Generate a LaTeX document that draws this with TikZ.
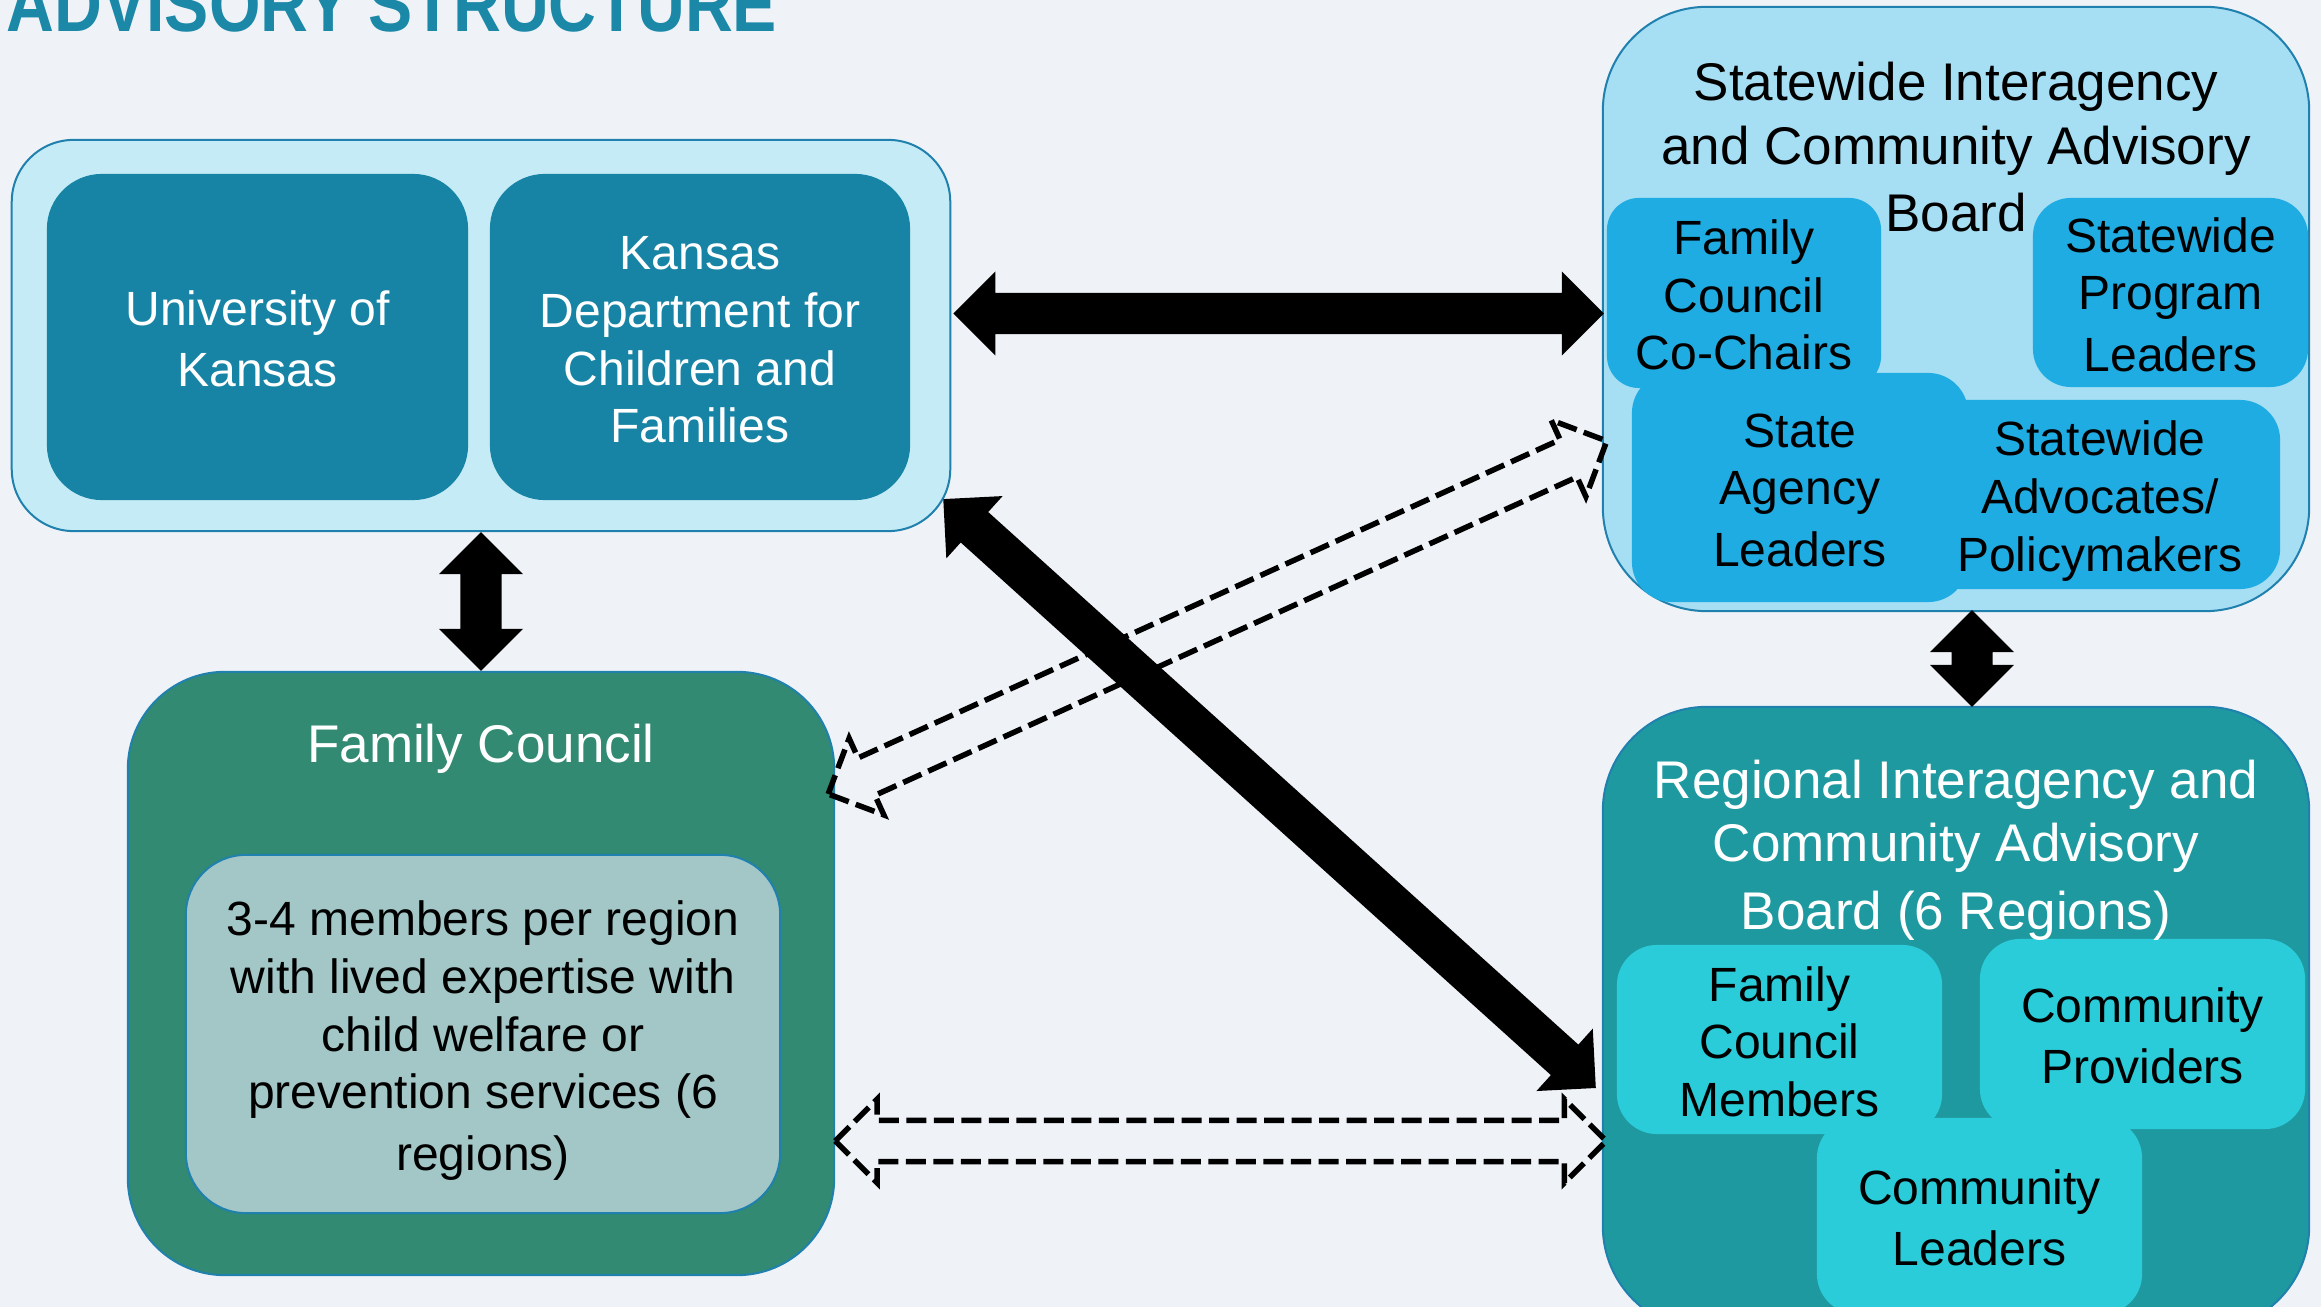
\documentclass[tikz,border=0pt]{standalone}
\usepackage{fontspec}
\setmainfont{Liberation Sans}
\usepackage{graphicx}
\usetikzlibrary{calc}
\definecolor{bgc}{HTML}{EFF3F7}
\definecolor{titlec}{HTML}{1B88A8}
\definecolor{bordc}{HTML}{2080AE}
\definecolor{tlfill}{HTML}{C5ECF6}
\definecolor{tlin}{HTML}{1784A5}
\definecolor{fcfill}{HTML}{318A71}
\definecolor{fcin}{HTML}{A2C7C6}
\definecolor{swfill}{HTML}{A6DEF3}
\definecolor{swin}{HTML}{1FACE2}
\definecolor{rgfill}{HTML}{1F99A0}
\definecolor{rgin}{HTML}{29CCD8}
\newcommand\fsS{\fontsize{13.66pt}{16.39pt}\selectfont}
\newcommand\fsT{\fontsize{15.08pt}{18.1pt}\selectfont}
\newcommand\sk{\rule[-0.2em]{0pt}{1.2em}}
% block arrow outline between two named points: #1 style, #2 from, #3 to
\newcommand{\blockarrow}[3]{%
  \coordinate (hA) at ($(#2)!0.42cm!(#3)$);
  \coordinate (hB) at ($(#3)!0.42cm!(#2)$);
  \draw[#1] (#2) -- ($(hA)!0.42cm!90:(#3)$) -- ($(hA)!0.205cm!90:(#3)$)
    -- ($(hB)!0.205cm!-90:(#2)$) -- ($(hB)!0.42cm!-90:(#2)$) -- (#3)
    -- ($(hB)!0.42cm!90:(#2)$) -- ($(hB)!0.205cm!90:(#2)$)
    -- ($(hA)!0.205cm!-90:(#3)$) -- ($(hA)!0.42cm!-90:(#3)$) -- cycle;}
\begin{document}
\begin{tikzpicture}[x=0.01cm,y=-0.01cm,
  outer/.style={rectangle, draw=bordc, line width=0.02cm, inner sep=0pt},
  inbox/.style={rectangle, inner sep=0pt, align=center, font=\fsS},
  ttext/.style={inner sep=0pt, align=center, font=\fsT},
  solidarrow/.style={fill=black, draw=none},
  hollowarrow/.style={draw=black, line width=0.055cm, dash pattern=on 0.2cm off 0.075cm, line join=miter}]
\useasboundingbox (0,0) rectangle (2321,1307);
\clip (0,0) rectangle (2321,1307);
\fill[bgc] (0,0) rectangle (2321,1307);
% title
\node[anchor=base west, inner sep=0pt, text=titlec] (ttl) at (6,32) {\resizebox{7.7cm}{0.54cm}{\bfseries ADVISORY STRUCTURE}};
% top-left group
\node[outer, fill=tlfill, minimum width=9.38cm, minimum height=3.91cm, rounded corners=0.62cm] (tl) at (481,335.5) {};
\node[inbox, fill=tlin, text=white, minimum width=4.21cm, minimum height=3.26cm, rounded corners=0.55cm] (uk) at (257.5,337) {\sk University of\\Kansas\sk};
\node[inbox, fill=tlin, text=white, minimum width=4.20cm, minimum height=3.26cm, rounded corners=0.55cm] (kdcf) at (700,337) {\sk Kansas\\Department for\\Children and\\Families\sk};
% family council
\node[outer, fill=fcfill, minimum width=7.06cm, minimum height=6.03cm, rounded corners=0.97cm] (fc) at (481,973.5) {};
\node[ttext, anchor=base, text=white] (fct) at ($(fc.north)+(0,92)$) {Family Council};
\node[inbox, draw=bordc, line width=0.02cm, fill=fcin, text=black, minimum width=5.94cm, minimum height=3.58cm, rounded corners=0.6cm] (fci) at (483,1034) {\sk 3-4 members per region\\with lived expertise with\\child welfare or\\prevention services (6\\regions)\sk};
% statewide board
\node[outer, fill=swfill, minimum width=7.06cm, minimum height=6.04cm, rounded corners=1.04cm] (sw) at (1956,309) {};
\node[inbox, fill=swin, minimum width=2.74cm, minimum height=1.90cm, rounded corners=0.32cm] (fcc) at (1744,293) {\sk Family\\Council\\Co-Chairs\sk};
\node[inbox, fill=swin, minimum width=2.75cm, minimum height=1.89cm, rounded corners=0.38cm] (swpl) at (2170.5,292.5) {\sk Statewide\\Program\\Leaders\sk};
\node[inbox, fill=swin, minimum width=3.36cm, minimum height=2.29cm, rounded corners=0.4cm] (sal) at (1800,487.5) {\sk State\\Agency\\Leaders\sk};
\node[inbox, fill=swin, minimum width=3.60cm, minimum height=1.89cm, rounded corners=0.4cm] (swa) at (2100,494.5) {\sk Statewide\\Advocates/\\Policymakers\sk};
\node[ttext, text=black] (swt) at ($(sw.north)+(0,139)$) {\sk Statewide Interagency\\and Community Advisory\\Board\sk};
% regional board
\node[outer, fill=rgfill, minimum width=7.06cm, minimum height=6.23cm, rounded corners=1.04cm] (rg) at (1956,1018.5) {};
\node[inbox, fill=rgin, minimum width=3.25cm, minimum height=1.89cm, rounded corners=0.4cm] (fcm) at (1779.5,1039.5) {\sk Family\\Council\\Members\sk};
\node[inbox, fill=rgin, minimum width=3.25cm, minimum height=1.90cm, rounded corners=0.4cm] (cp) at (2142.5,1034) {\sk Community\\Providers\sk};
\node[inbox, fill=rgin, minimum width=3.25cm, minimum height=1.96cm, rounded corners=0.4cm] (cl) at (1979.5,1216) {\sk Community\\Leaders\sk};
\node[ttext, text=white] (rgt) at ($(rg.north)+(0,137)$) {\sk Regional Interagency and\\Community Advisory\\Board (6 Regions)\sk};
% connector end points
\coordinate (h1a) at ($(tl.east)+(2,-22)$);
\coordinate (h1b) at ($(sw.west)+(2,4.5)$);
\coordinate (v2a) at ($(sw.south)+(16,-2)$);
\coordinate (v2b) at ($(rg.north)+(16,1)$);
\coordinate (d1a) at ($(tl.south east)+(-8,-33)$);
\coordinate (d1b) at ($(rg.west)+(-6,69.5)$);
\coordinate (hd1a) at ($(fc.east)+(-7,-179.5)$);
\coordinate (hd1b) at ($(sw.west)+(5,132)$);
\coordinate (hd2a) at ($(fc.east)+(0,167.5)$);
\coordinate (hd2b) at ($(rg.west)+(4.5,122.5)$);
% dashed hollow arrows
\blockarrow{hollowarrow}{hd1a}{hd1b}
\blockarrow{hollowarrow}{hd2a}{hd2b}
% solid arrows
\blockarrow{solidarrow}{h1a}{h1b}
\blockarrow{solidarrow}{tl.south}{fc.north}
\blockarrow{solidarrow}{v2a}{v2b}
\blockarrow{solidarrow}{d1a}{d1b}
\end{tikzpicture}
\end{document}
